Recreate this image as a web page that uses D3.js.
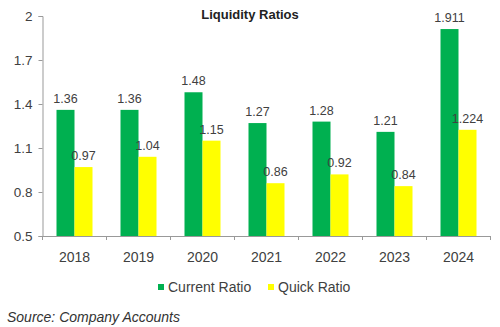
<!DOCTYPE html>
<html><head><meta charset="utf-8">
<script src="https://cdn.jsdelivr.net/npm/d3@7"></script>
<style>
body{margin:0;background:#fff;}
svg{display:block;font-family:"Liberation Sans",Arial,sans-serif;}
</style></head>
<body>
<svg id="c" width="500" height="327"></svg>
<script>
const years = ["2018","2019","2020","2021","2022","2023","2024"];
const currentRatio = [1.36,1.36,1.48,1.27,1.28,1.21,1.911];
const quickRatio = [0.97,1.04,1.15,0.86,0.92,0.84,1.224];
const currentLabels = ["1.36","1.36","1.48","1.27","1.28","1.21","1.911"];
const quickLabels = ["0.97","1.04","1.15","0.86","0.92","0.84","1.224"];
const yTicks = [0.5,0.8,1.1,1.4,1.7,2];
const yTickLabels = ["0.5","0.8","1.1","1.4","1.7","2"];
const seriesNames = ["Current Ratio","Quick Ratio"];
const colors = ["#00B050","#FFFF00"];

(function(){
const svg = d3.select("#c");
const mLeft = 42.5, mRight = 490.5, mTop = 16, mBottom = 236;
const x = d3.scaleBand().domain(years).range([mLeft,mRight]).paddingInner(0).paddingOuter(0);
const y = d3.scaleLinear().domain([0.5,2]).range([mBottom,mTop]);
const inner = d3.scaleBand().domain([0,1]).range([0,36]);
const textCol = "#404040";

svg.append("text").attr("x",250).attr("y",19).attr("text-anchor","middle")
  .attr("font-size",13).attr("font-weight","bold").attr("fill","#222").text("Liquidity Ratios");

const yAxis = svg.append("g").attr("transform",`translate(${mLeft},0)`)
  .call(d3.axisLeft(y).tickValues(yTicks).tickFormat((d,i)=>yTickLabels[i]).tickSize(4).tickPadding(6));
yAxis.select(".domain").attr("stroke","#999");
yAxis.selectAll(".tick line").attr("stroke","#999");
yAxis.selectAll("text").attr("font-size",13.5).attr("fill",textCol).attr("font-family","Liberation Sans, Arial");

const xAxis = svg.append("g").attr("transform",`translate(0,${mBottom})`)
  .call(d3.axisBottom(x).tickSize(0).tickPadding(16));
xAxis.select(".domain").attr("stroke","#999");
xAxis.selectAll("text").attr("font-size",14).attr("fill",textCol).attr("font-family","Liberation Sans, Arial");
const bounds = years.map(d=>x(d)).concat([x(years[years.length-1])+x.bandwidth()]);
svg.append("g").selectAll("line").data(bounds).join("line")
  .attr("x1",d=>d).attr("x2",d=>d).attr("y1",mBottom).attr("y2",mBottom+4).attr("stroke","#999");

const series = [currentRatio, quickRatio];
const labels = [currentLabels, quickLabels];
series.forEach((vals,s)=>{
  const g = svg.append("g");
  g.selectAll("rect").data(vals).join("rect")
    .attr("x",(d,i)=>x(years[i]) + (x.bandwidth()-36)/2 + inner(s))
    .attr("width",inner.bandwidth())
    .attr("y",d=>y(d)).attr("height",d=>mBottom-y(d))
    .attr("fill",colors[s]);
  g.selectAll("text").data(vals).join("text")
    .attr("x",(d,i)=>x(years[i]) + (x.bandwidth()-36)/2 + inner(s) + inner.bandwidth()/2)
    .attr("y",d=>y(d)-7)
    .attr("text-anchor","middle").attr("font-size",12.5).attr("fill",textCol)
    .text((d,i)=>labels[s][i]);
});

const leg = svg.append("g");
const legX = [158,268];
seriesNames.forEach((n,i)=>{
  leg.append("rect").attr("x",legX[i]).attr("y",284).attr("width",6).attr("height",6).attr("fill",colors[i]);
  leg.append("text").attr("x",legX[i]+10).attr("y",292).attr("font-size",14).attr("fill",textCol).text(n);
});

svg.append("text").attr("x",7).attr("y",322).attr("font-size",14).attr("font-style","italic")
  .attr("fill","#333").text("Source: Company Accounts");
})();
</script>
</body></html>
